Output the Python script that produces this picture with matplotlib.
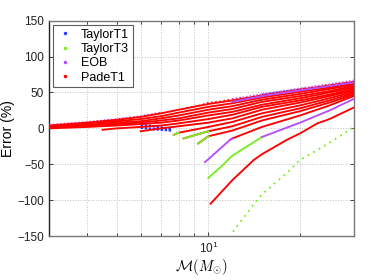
import matplotlib
matplotlib.use('Agg')
import matplotlib.pyplot as plt
from matplotlib.lines import Line2D
from matplotlib.ticker import FixedLocator, NullFormatter

plt.rcParams['font.family'] = ['Liberation Sans', 'DejaVu Sans']
plt.rcParams['mathtext.fontset'] = 'cm'

# ---- data: chirp mass (Msun) and error (%) ----
c01_m = [3, 4, 5, 6, 7, 8, 10, 12, 15, 20, 25, 30]
c01_v = [4, 8, 12, 16, 21, 26, 34, 39, 46, 54, 60, 65]
c02_v = [3, 7, 10, 13, 17, 22, 30, 35, 43, 51, 57, 63]
c03_v = [2, 5, 8, 10, 14, 18, 26, 31, 40, 48, 55, 61]
c04_v = [1, 4, 6, 8, 11, 14, 22, 27, 37, 45, 52, 59]
c05_v = [0, 2, 4, 6, 8, 11, 18, 23, 33, 42, 50, 57]
c06_m = [4.5, 5, 6, 7, 8, 10, 12, 15, 20, 25, 30]
c06_v = [-2, 0, 2, 4, 7, 13, 19, 30, 39, 47, 55]
c07_m = [6, 7, 8, 10, 12, 15, 20, 25, 30]
c07_v = [-4, 0, 3, 8, 14, 26, 36, 45, 53]
c08_m = [7.7, 8, 10, 12, 15, 20, 25, 30]
c08_v = [-9, -6, 2, 9, 21, 32, 42, 51]
c09_m = [8.3, 10, 12, 15, 20, 25, 30]
c09_v = [-14, -4, 3, 16, 28, 39, 49]
c10_m = [9.27, 10, 12, 15, 20, 25, 30]
c10_v = [-21, -11, -3, 11, 24, 36, 47]
c11_m = [9.75, 10, 11.78, 12, 15, 20, 25, 30]
c11_v = [-47, -43, -16, -14, 2, 18, 32, 45]
c12_m = [10, 11.17, 11.78, 12, 15, 20, 25, 30]
c12_v = [-69, -51, -41, -38, -12, 8, 25, 41]
c13_m = [10.17, 12, 14.1, 15, 18.1, 20, 22.8, 25, 30]
c13_v = [-105, -72, -44, -36, -16, -7, 7, 13, 29]
c14_m = [12.05, 14.2, 15, 17.9, 20, 22.8, 25, 30]
c14_v = [-144, -104, -92, -64, -44, -30, -20, 1.5]

# extra visible pieces of the other approximants
eob_top_m = [12, 15, 20, 25, 30]
eob_top_v = [41, 48, 56, 62, 67]
eob_top2_m = [12, 15, 20, 25, 30]
eob_top2_v = [37, 45, 53, 59, 64]
eob_left_m = [3, 4, 5, 6, 7]
eob_left_v = [5, 9, 13, 17, 22]
t1_lo_m = [6.0, 6.6, 7.1, 7.6]
t1_lo_v = [1, -1, -2, -3]
t1_lo2_m = [6.0, 6.6, 7.1, 7.6]
t1_lo2_v = [5, 3, 1, -1]
t1_hi_m = [15, 17, 19, 21]
t1_hi_v = [47.5, 51, 53.5, 56.5]
pade_top_m = [8.5, 9.2, 10, 11, 12, 13]
pade_top_v = [29, 31, 36, 38, 41, 43]

legend_labels = ['TaylorT1', 'TaylorT3', 'EOB', 'PadeT1']
col_t1 = '#2a3cff'
col_t3 = '#77ee22'
col_eob = '#b84dff'
col_pade = '#ff0000'

fig = plt.figure(figsize=(3.74, 2.8), dpi=100)
ax = fig.add_axes([0.131, 0.157, 0.8147, 0.769])
ax.set_xscale('log')

lw = 1.35
solid = '-'
# TaylorT1 (blue)
ax.plot(t1_lo_m, t1_lo_v, color=col_t1, lw=1.8, ls=(0, (1, 0.6)), zorder=2)
ax.plot(t1_lo2_m, t1_lo2_v, color=col_t1, lw=1.8, ls=(0, (1, 0.6)), zorder=2)
ax.plot(t1_hi_m, t1_hi_v, color=col_t1, lw=1.0, ls=(0, (1, 1.5)), zorder=2)
# TaylorT3 (green)
ax.plot(c14_m, c14_v, color=col_t3, lw=1.3, ls=(0, (1, 2.5)), zorder=3)
ax.plot(c12_m[:5], c12_v[:5], color=col_t3, lw=lw, ls=solid, zorder=3)
# EOB under red on the left
ax.plot(eob_left_m, eob_left_v, color=col_eob, lw=1.2, ls=(0, (1, 1.2)), zorder=3)
# PadeT1 (red)
for m, v in [(c01_m, c01_v), (c01_m, c02_v), (c01_m, c03_v), (c01_m, c04_v),
             (c01_m, c05_v), (c06_m, c06_v), (c07_m, c07_v), (c08_m, c08_v),
             (c09_m, c09_v), (c10_m, c10_v), (c13_m, c13_v)]:
    ax.plot(m, v, color=col_pade, lw=lw, ls=solid, zorder=4)
ax.plot(c11_m[2:], c11_v[2:], color=col_pade, lw=lw, ls=solid, zorder=4)
ax.plot(pade_top_m, pade_top_v, color=col_pade, lw=1.0, ls=(0, (1, 2)), zorder=4)
# green starts on top of red
ax.plot(c09_m[:2], c09_v[:2], color=col_t3, lw=lw, ls=solid, zorder=5)
ax.plot(c10_m[:2], c10_v[:2], color=col_t3, lw=lw, ls=solid, zorder=5)
ax.plot(c08_m[:2], c08_v[:2], color=col_t3, lw=lw, ls=solid, zorder=5)
# EOB (purple)
ax.plot(c11_m[:4], c11_v[:4], color=col_eob, lw=lw, ls=solid, zorder=5)
ax.plot(c12_m[4:], c12_v[4:], color=col_eob, lw=lw, ls=solid, zorder=5)
ax.plot(eob_top_m, eob_top_v, color=col_eob, lw=1.0, ls=(0, (1, 1.5)), zorder=5)
ax.plot(eob_top2_m, eob_top2_v, color=col_eob, lw=lw, ls=solid, zorder=5)

ax.set_xlim(3, 30)
ax.set_ylim(-150, 150)
ax.set_yticks([-150, -100, -50, 0, 50, 100, 150])
ax.xaxis.set_major_locator(FixedLocator([10]))
ax.xaxis.set_minor_locator(FixedLocator([4, 5, 6, 7, 8, 9, 20]))
ax.xaxis.set_minor_formatter(NullFormatter())
ax.set_xticklabels([r'$\mathregular{10^{1}}$'])
ax.grid(True, which='both', axis='x', ls=':', color='#c0c0c0', lw=0.7)
ax.grid(True, which='major', axis='y', ls=':', color='#c0c0c0', lw=0.7)
ax.tick_params(which='both', direction='in', top=True, right=True,
               labelsize=8.5, length=3, width=0.6, colors='#222222')
ax.tick_params(which='minor', length=2)
for s in ax.spines.values():
    s.set_color('#777777')
    s.set_linewidth(1.0)
ax.spines['left'].set_color('#222222')

ax.set_ylabel('Error (%)', fontsize=10, labelpad=2)
ax.set_xlabel(r'$\mathcal{M}(M_{\odot})$', fontsize=10.5, labelpad=1)

handles = [Line2D([], [], ls='none', marker='.', ms=3, color=c)
           for c in [col_t1, col_t3, col_eob, col_pade]]
leg = ax.legend(handles, legend_labels, loc='upper left', fontsize=9,
                frameon=True, fancybox=False, edgecolor='#333333',
                borderaxespad=0.35, handlelength=1.2, handletextpad=0.7,
                labelspacing=0.18, borderpad=0.3)
leg.get_frame().set_linewidth(0.8)

fig.savefig('out.png', dpi=100)
